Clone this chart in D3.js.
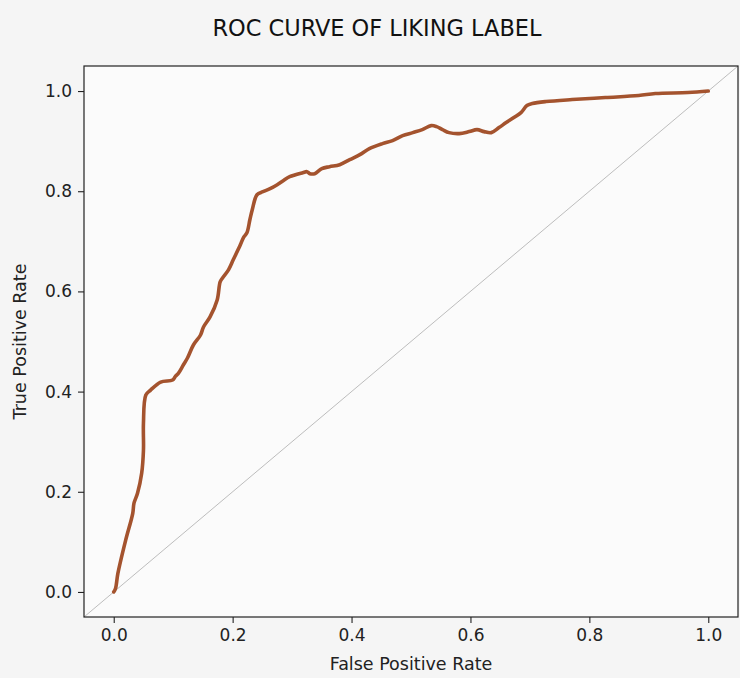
<!DOCTYPE html>
<html>
<head>
<meta charset="utf-8">
<script src="https://cdn.jsdelivr.net/npm/d3@7"></script>
<style>
  html, body { margin: 0; padding: 0; background: #f5f5f5; }
  svg { display: block; }
  .tick text { font-family: "DejaVu Sans", sans-serif; font-size: 17px; fill: #222; }
  .axis-label { font-family: "DejaVu Sans", sans-serif; font-size: 17.5px; fill: #222; }
  .title { font-family: "Liberation Sans Narrow", "DejaVu Sans Condensed", "Liberation Sans", sans-serif; font-size: 23px; fill: #111; }
</style>
</head>
<body>
<svg id="chart" width="740" height="678"></svg>
<script>
// ROC curve points
const fpr = [0.000, 0.003, 0.007, 0.020, 0.032, 0.034, 0.040, 0.047, 0.050, 0.050, 0.054, 0.062,
  0.079, 0.099, 0.104, 0.109, 0.117, 0.124, 0.134, 0.146, 0.151, 0.162, 0.174, 0.179, 0.183,
  0.193, 0.201, 0.213, 0.218, 0.224, 0.229, 0.233, 0.241, 0.251, 0.263, 0.275, 0.285, 0.296,
  0.318, 0.325, 0.330, 0.338, 0.350, 0.363, 0.380, 0.397, 0.414, 0.430, 0.452, 0.469, 0.486,
  0.503, 0.519, 0.534, 0.543, 0.553, 0.564, 0.581, 0.598, 0.611, 0.623, 0.635, 0.648, 0.660,
  0.673, 0.685, 0.695, 0.704, 0.727, 0.771, 0.827, 0.883, 0.911, 0.966, 1.000];
const tpr = [0.000, 0.007, 0.037, 0.103, 0.157, 0.177, 0.197, 0.237, 0.283, 0.337, 0.393, 0.403,
  0.419, 0.423, 0.431, 0.437, 0.453, 0.467, 0.493, 0.513, 0.529, 0.549, 0.583, 0.619, 0.627,
  0.643, 0.663, 0.693, 0.707, 0.717, 0.743, 0.763, 0.793, 0.799, 0.805, 0.813, 0.821, 0.829,
  0.837, 0.839, 0.835, 0.835, 0.845, 0.849, 0.853, 0.863, 0.873, 0.885, 0.895, 0.901, 0.911,
  0.917, 0.923, 0.931, 0.929, 0.923, 0.917, 0.915, 0.919, 0.923, 0.919, 0.917, 0.927, 0.937,
  0.947, 0.957, 0.971, 0.975, 0.979, 0.983, 0.987, 0.991, 0.995, 0.997, 1.000];
const xTicks = [0, 0.2, 0.4, 0.6, 0.8, 1.0];
const yTicks = [0, 0.2, 0.4, 0.6, 0.8, 1.0];
const titleText = "ROC CURVE OF LIKING LABEL";

var svg = d3.select("#chart");
var margin = { top: 66, right: 2, bottom: 61, left: 84 };
var width = +svg.attr("width") - margin.left - margin.right;
var height = +svg.attr("height") - margin.top - margin.bottom;

var g = svg.append("g").attr("transform", `translate(${margin.left},${margin.top})`);

var x = d3.scaleLinear().domain([-0.05, 1.05]).range([0, width]);
var y = d3.scaleLinear().domain([-0.05, 1.05]).range([height, 0]);

g.append("rect")
  .attr("width", width)
  .attr("height", height)
  .attr("fill", "#fbfbfb");

// chance line
g.append("line")
  .attr("x1", x(-0.05)).attr("y1", y(-0.05))
  .attr("x2", x(1.05)).attr("y2", y(1.05))
  .attr("stroke", "#b5b5b5")
  .attr("stroke-width", 0.9);

var points = fpr.map((f, i) => ({ f: f, t: tpr[i] }));

var lineGen = d3.line()
  .curve(d3.curveCatmullRom.alpha(0.5))
  .x(d => x(d.f))
  .y(d => y(d.t));

g.append("path")
  .datum(points)
  .attr("fill", "none")
  .attr("stroke", "#a4532e")
  .attr("stroke-width", 3.6)
  .attr("stroke-linejoin", "round")
  .attr("stroke-linecap", "round")
  .attr("d", lineGen);

var xAxis = g.append("g")
  .attr("transform", `translate(0,${height})`)
  .call(d3.axisBottom(x).tickValues(xTicks).tickFormat(d3.format(".1f")).tickSize(6).tickPadding(6));
var yAxis = g.append("g")
  .call(d3.axisLeft(y).tickValues(yTicks).tickFormat(d3.format(".1f")).tickSize(6).tickPadding(6));

[xAxis, yAxis].forEach(a => {
  a.select(".domain").remove();
  a.selectAll(".tick line").attr("stroke", "#222").attr("stroke-width", 1.1);
});

// frame
g.append("rect")
  .attr("width", width)
  .attr("height", height)
  .attr("fill", "none")
  .attr("stroke", "#222")
  .attr("stroke-width", 1.2);

g.append("text")
  .attr("class", "axis-label")
  .attr("x", width / 2)
  .attr("y", height + 53)
  .attr("text-anchor", "middle")
  .text("False Positive Rate");

g.append("text")
  .attr("class", "axis-label")
  .attr("transform", "rotate(-90)")
  .attr("x", -height / 2)
  .attr("y", -58)
  .attr("text-anchor", "middle")
  .text("True Positive Rate");

svg.append("text")
  .attr("class", "title")
  .attr("x", 377)
  .attr("y", 36)
  .attr("text-anchor", "middle")
  .attr("textLength", 329)
  .attr("lengthAdjust", "spacingAndGlyphs")
  .text(titleText);
</script>
</body>
</html>
